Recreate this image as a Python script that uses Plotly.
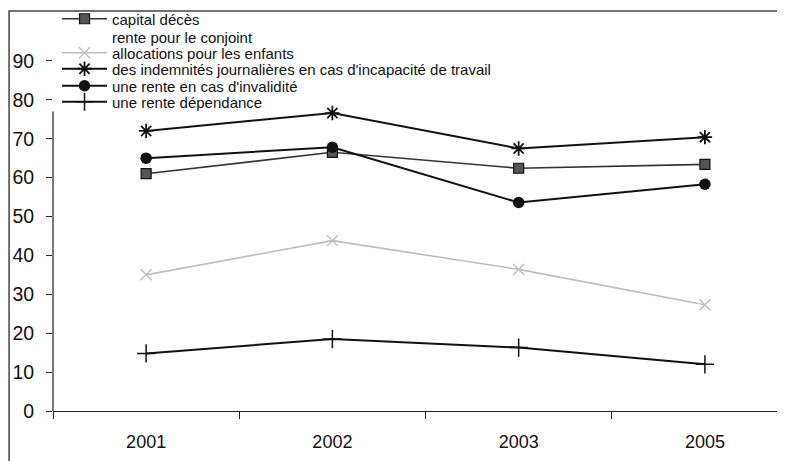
import plotly.graph_objects as go

years = ["2001", "2002", "2003", "2005"]
capital_deces = [61, 66.5, 62.4, 63.4]
rente_conjoint = [None, None, None, None]
allocations_enfants = [35, 43.8, 36.4, 27.3]
indemnites = [72, 76.6, 67.5, 70.4]
rente_invalidite = [65, 67.8, 53.6, 58.3]
rente_dependance = [14.8, 18.5, 16.3, 12.0]

y_ticks = [0, 10, 20, 30, 40, 50, 60, 70, 80, 90]
y_axis_line_top = 77

# vertical position (paper fraction) of each legend row, to mimic the compact legend
legend_rows = [1.0077, 0.9614, 0.9203, 0.8792, 0.8355, 0.7943]
legend_ids = ["legend", "legend2", "legend3", "legend4", "legend5", "legend6"]

fig = go.Figure()
fig.add_trace(go.Scatter(x=years, y=capital_deces, name="capital décès", mode="lines+markers",
                         legend=legend_ids[0],
                         line=dict(color="#333333", width=1.6),
                         marker=dict(symbol="square", size=10, color="#555555",
                                     line=dict(color="#111111", width=1.2))))
fig.add_trace(go.Scatter(x=years, y=rente_conjoint, name="rente pour le conjoint", mode="lines",
                         legend=legend_ids[1],
                         line=dict(color="rgba(0,0,0,0)", width=1)))
fig.add_trace(go.Scatter(x=years, y=allocations_enfants, name="allocations pour les enfants",
                         mode="lines+markers", legend=legend_ids[2],
                         line=dict(color="#bdbdbd", width=1.6),
                         marker=dict(symbol="x-thin-open", size=11,
                                     line=dict(color="#b5b5b5", width=1.4))))
fig.add_trace(go.Scatter(x=years, y=indemnites,
                         name="des indemnités journalières en cas d'incapacité de travail",
                         mode="lines+markers", legend=legend_ids[3],
                         line=dict(color="#111111", width=2),
                         marker=dict(symbol="asterisk-open", size=12,
                                     line=dict(color="#111111", width=1.8))))
fig.add_trace(go.Scatter(x=years, y=rente_invalidite, name="une rente en cas d'invalidité",
                         mode="lines+markers", legend=legend_ids[4],
                         line=dict(color="#111111", width=2),
                         marker=dict(symbol="circle", size=11.5, color="#111111")))
fig.add_trace(go.Scatter(x=years, y=rente_dependance, name="une rente dépendance",
                         mode="lines+markers", legend=legend_ids[5],
                         line=dict(color="#111111", width=2),
                         marker=dict(symbol="cross-thin-open", size=13,
                                     line=dict(color="#111111", width=1.5))))

# outer frame of the scanned figure
fig.add_shape(type="rect", xref="paper", yref="paper",
              x0=-0.06, x1=1.02, y0=-0.3, y1=1.028,
              line=dict(color="#444444", width=1.5), fillcolor="rgba(0,0,0,0)", layer="below")
# y axis line (hidden behind the legend at the top in the original)
fig.add_shape(type="line", xref="paper", yref="y", x0=0, x1=0, y0=0, y1=y_axis_line_top,
              line=dict(color="#222222", width=1.2))

legend_style = dict(x=0.0055, xanchor="left", yanchor="middle",
                    bgcolor="rgba(0,0,0,0)", font=dict(size=15, color="#111111"),
                    itemwidth=45)
layout_legends = {lid: dict(legend_style, y=ly) for lid, ly in zip(legend_ids, legend_rows)}

fig.update_layout(
    width=785, height=461,
    margin=dict(l=45, r=8, t=14, b=58, autoexpand=False),
    paper_bgcolor="white", plot_bgcolor="white",
    font=dict(family="Liberation Sans, Arial, sans-serif", color="#111111"),
    showlegend=True,
    xaxis=dict(type="category", categoryorder="array", categoryarray=years,
               range=[-0.5, 3.43], showgrid=False, zeroline=False,
               showline=True, linecolor="#222222", linewidth=1.2,
               ticks="outside", tickson="boundaries", ticklen=7, tickcolor="#222222",
               tickfont=dict(size=18), ticklabelstandoff=14, automargin=False),
    yaxis=dict(range=[0, 100], tickvals=y_ticks, showgrid=False, zeroline=False,
               showline=False,
               ticks="outside", ticklen=6, tickcolor="#222222",
               tickfont=dict(size=19.5), ticklabelstandoff=8, automargin=False),
    **layout_legends,
)

fig.write_html("out.html")
